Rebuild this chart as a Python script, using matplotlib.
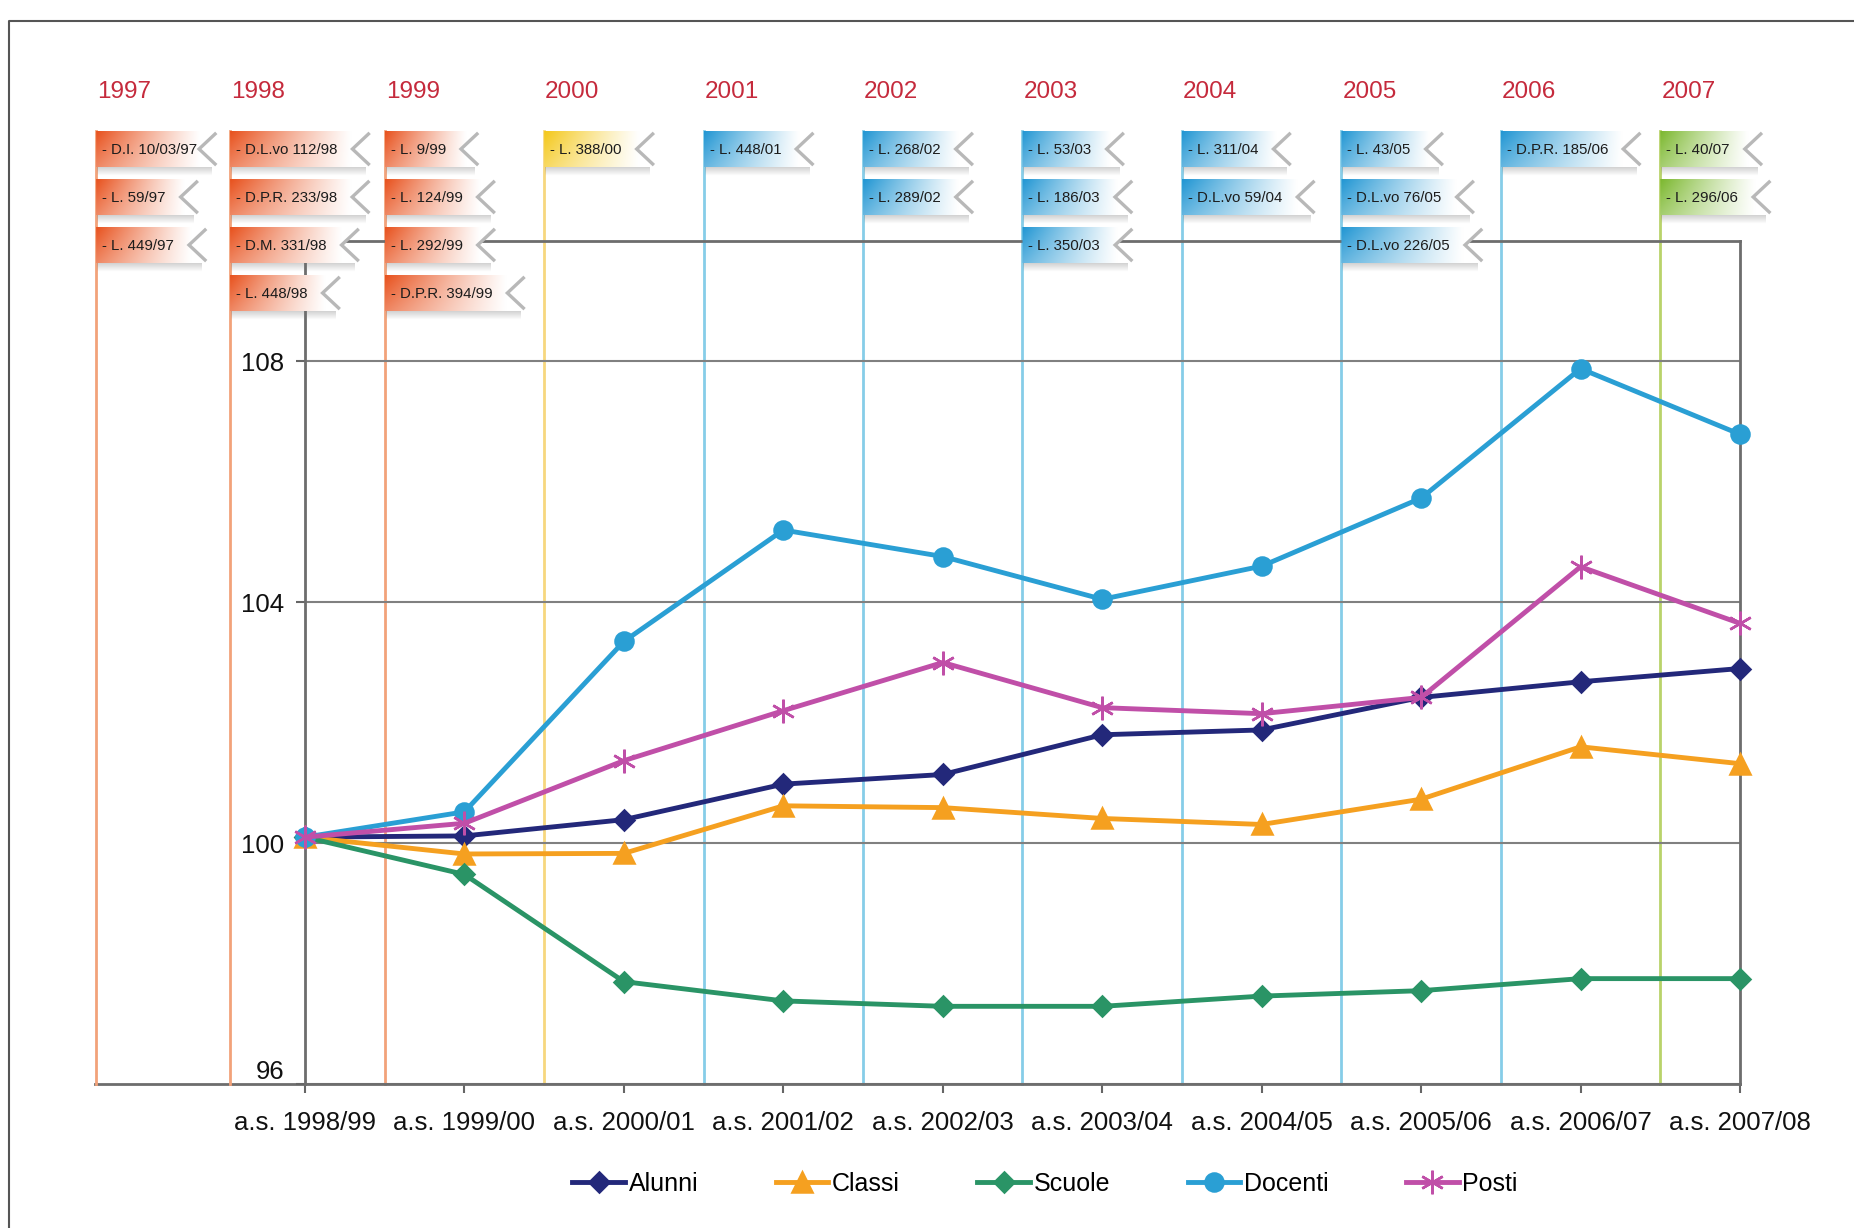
import numpy as np
import matplotlib.pyplot as plt
from matplotlib.patches import Polygon
from matplotlib.colors import to_rgb

plt.rcParams['font.family'] = ['Liberation Sans', 'DejaVu Sans']

# ---- dati ----
anni_scolastici = ["a.s. 1998/99", "a.s. 1999/00", "a.s. 2000/01", "a.s. 2001/02",
                   "a.s. 2002/03", "a.s. 2003/04", "a.s. 2004/05", "a.s. 2005/06",
                   "a.s. 2006/07", "a.s. 2007/08"]
alunni = [100.1, 100.12, 100.39, 100.98, 101.14, 101.8, 101.88, 102.42, 102.68, 102.9]
classi = [100.1, 99.82, 99.83, 100.62, 100.59, 100.41, 100.31, 100.73, 101.6, 101.32]
scuole = [100.1, 99.48, 97.7, 97.38, 97.29, 97.29, 97.46, 97.55, 97.75, 97.75]
docenti = [100.1, 100.52, 103.35, 105.2, 104.76, 104.05, 104.6, 105.73, 107.88, 106.79]
posti = [100.1, 100.33, 101.37, 102.2, 103.0, 102.25, 102.15, 102.42, 104.59, 103.65]

anni_norme = ["1997", "1998", "1999", "2000", "2001", "2002", "2003", "2004",
              "2005", "2006", "2007"]
norme = [
    ["- D.I. 10/03/97", "- L. 59/97", "- L. 449/97"],
    ["- D.L.vo 112/98", "- D.P.R. 233/98", "- D.M. 331/98", "- L. 448/98"],
    ["- L. 9/99", "- L. 124/99", "- L. 292/99", "- D.P.R. 394/99"],
    ["- L. 388/00"],
    ["- L. 448/01"],
    ["- L. 268/02", "- L. 289/02"],
    ["- L. 53/03", "- L. 186/03", "- L. 350/03"],
    ["- L. 311/04", "- D.L.vo 59/04"],
    ["- L. 43/05", "- D.L.vo 76/05", "- D.L.vo 226/05"],
    ["- D.P.R. 185/06"],
    ["- L. 40/07", "- L. 296/06"],
]

# ---- stile ----
tinta = ['#e8521e'] * 3 + ['#f4c81a'] + ['#2196d3'] * 6 + ['#7cb82f']
linea = ['#f2a27a'] * 3 + ['#f7d77e'] + ['#86cde8'] * 6 + ['#b9d36a']
col_x = [-1.31, -0.47] + [k + 0.5 for k in range(9)]

W, H = 1854, 1228
fig = plt.figure(figsize=(W / 100, H / 100), dpi=100)
ax = fig.add_axes([305 / W, 1 - 1084 / H, (1740 - 305) / W, (1084 - 241) / H])
ax.set_facecolor('none')
ax.set_zorder(1)

back = fig.add_axes([0, 0, 1, 1])
back.set_zorder(0)
front = fig.add_axes([0, 0, 1, 1])
front.set_zorder(2)
for o in (back, front):
    o.set_xlim(0, W)
    o.set_ylim(H, 0)
    o.axis('off')
    o.patch.set_alpha(0)

x = np.arange(len(anni_scolastici))
serie = [
    ("Alunni", alunni, '#23287a', 'D', 10),
    ("Classi", classi, '#f5a020', '^', 14),
    ("Scuole", scuole, '#2a9466', 'D', 10),
    ("Docenti", docenti, '#2a9fd4', 'o', 13),
    ("Posti", posti, '#c04fa8', (6, 2, 0), 17),
]
for nome, vals, c, m, ms in serie:
    ax.plot(x, vals, color=c, lw=3.5, marker=m, ms=ms, mew=1.8, mec=c, mfc=c,
            label=nome, clip_on=False, zorder=3)

ax.set_xlim(0, 9)
ax.set_ylim(96, 110)
ax.set_xticks(x, anni_scolastici)
ax.set_yticks([96, 100, 104, 108], ['', '100', '104', '108'])
ax.tick_params(axis='both', direction='out', length=6.5, width=1.5, color='#666666',
               labelsize=18.5, labelcolor='#111111')
ax.tick_params(axis='x', pad=13)
ax.tick_params(axis='y', pad=8.6)
ax.annotate('96', xy=(0, 96), xycoords=('axes fraction', 'data'), xytext=(-21, 12),
            textcoords='offset pixels', ha='right', va='center', fontsize=18.5,
            color='#111111')
ax.grid(axis='y', color='#808080', lw=1.5)
ax.set_axisbelow(True)
for s in ax.spines.values():
    s.set_color('#6d6d6d')
    s.set_linewidth(2)

# asse orizzontale esteso a sinistra
x0, yb = ax.transData.transform((0, 96))
xl, _ = ax.transData.transform((-1.32, 96))
back.plot([xl, x0], [H - yb, H - yb], color='#6d6d6d', lw=2)

# cornice
back.plot([9.5, 9.5, W], [H, 21, 21], color='#555555', lw=1.5)

renderer = fig.canvas.get_renderer()
row_y = [149 + 48 * k for k in range(4)]
hgt = 36
notch = 17
col_px = [ax.transData.transform((cx, 96))[0] for cx in col_x]


def bandierina(L, yc, testo, colore, maxw):
    t = front.text(L + 6, yc + 1, testo, fontsize=10.8, va='center', ha='left',
                   color='#1c1c1c', zorder=6)
    tw = t.get_window_extent(renderer).width
    R = L + min(tw + 38, maxw)
    top, bot = yc - hgt / 2, yc + hgt / 2
    # ombra
    sh = np.zeros((12, 2, 4))
    sh[..., :3] = 0.45
    sh[..., 3] = np.linspace(0.35, 0.0, 12)[:, None]
    front.imshow(sh, extent=(L + 1, R - 4, bot + 9, bot - 1), aspect='auto',
                 interpolation='bilinear', zorder=3)
    # bandiera sfumata
    u = np.linspace(0, 1, 120)
    v = np.linspace(0, 1, 24)
    k = np.clip(1 - u[None, :] * 1.15, 0, 1) ** 1.1 * (1 - 0.3 * v[:, None])
    c = np.array(to_rgb(colore))
    img = 1 - k[..., None] * (1 - c)
    poly = Polygon([(L, top), (R, top), (R - notch, yc), (R, bot), (L, bot)],
                   closed=True, facecolor='none', edgecolor='none', zorder=4)
    front.add_patch(poly)
    im = front.imshow(img, extent=(L, R, bot, top), aspect='auto',
                      interpolation='bilinear', zorder=4)
    im.set_clip_path(poly)
    front.plot([R - 1, R - notch, R - 1], [top + 3, yc, bot - 3], color='#b8b8b8',
               lw=2.4, solid_joinstyle='miter', zorder=5)


for i, (anno, lista) in enumerate(zip(anni_norme, norme)):
    L = col_px[i]
    back.plot([L, L], [row_y[0] - hgt / 2, H - yb], color=linea[i], lw=2)
    front.text(L + 1, 92, anno, color='#c52a3c', fontsize=17.5, va='center', ha='left')
    maxw = (col_px[i + 1] - L - 14) if i + 1 < len(col_px) else 200
    for r, testo in enumerate(lista):
        bandierina(L, row_y[r], testo, tinta[i], maxw)

for o in (back, front):
    o.set_xlim(0, W)
    o.set_ylim(H, 0)

fig.legend(*ax.get_legend_handles_labels(), loc='center',
           bbox_to_anchor=(1045 / W, 1 - 1184 / H), ncol=5, frameon=False,
           fontsize=18, handlelength=2.1, handletextpad=0.15, columnspacing=3.1,
           numpoints=1)

fig.savefig('out.png', dpi=100, facecolor='white')
